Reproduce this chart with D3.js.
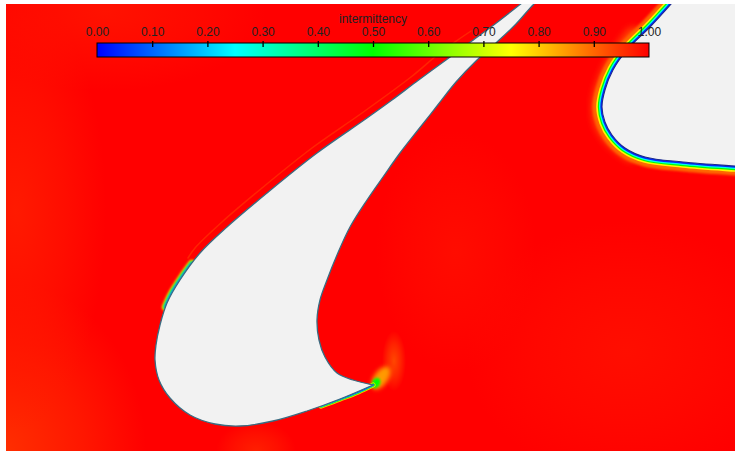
<!DOCTYPE html>
<html>
<head>
<meta charset="utf-8">
<script src="https://cdn.jsdelivr.net/npm/d3@7"></script>
<style>
  html, body { margin: 0; padding: 0; background: #fff; }
  svg { display: block; }
</style>
</head>
<body>
<svg id="chart" width="735" height="452"></svg>
<script>
// Intermittency field around two turbine blade sections (coordinates in mm)

// colour legend
const legendTitle = "intermittency";
const tickValues = [0.0, 0.1, 0.2, 0.3, 0.4, 0.5, 0.6, 0.7, 0.8, 0.9, 1.0];
const colorStops = [0.0, 0.25, 0.5, 0.75, 1.0];
const colorRange = ["#0000ff", "#00ffff", "#00ff00", "#ffff00", "#ff0000"];

// blade A: trailing edge -> pressure side -> leading edge -> suction side -> trailing edge
const bladeA = [
  [36.7, 6.6], [33.4, 5.2], [30.1, 4.0], [26.7, 3.0], [23.4, 2.5], [20.9, 2.7],
  [18.4, 3.6], [16.4, 5.3], [15.3, 7.1], [14.9, 9.1], [15.0, 10.6], [15.4, 12.6],
  [16.1, 14.8], [17.4, 17.1], [19.4, 19.8], [22.1, 22.4], [26.1, 25.8], [31.1, 29.8],
  [36.1, 33.3], [38.6, 35.1], [41.0, 36.9], [44.0, 39.1], [46.3, 40.8], [48.9, 42.7],
  [51.6, 44.8], [53.0, 45.9], [54.3, 45.9], [52.9, 44.8], [51.0, 42.7], [49.0, 40.8],
  [47.1, 39.1], [45.0, 36.9], [43.1, 34.5], [41.2, 32.1], [39.4, 29.8], [37.7, 27.4],
  [36.1, 25.1], [34.4, 22.4], [33.1, 19.6], [32.1, 17.1], [31.4, 15.1], [31.1, 13.1],
  [31.3, 11.1], [31.9, 9.4], [33.1, 7.8], [34.7, 7.1], [36.7, 6.6]
];

// blade B (next passage): wall contour, then the point that closes it beyond the domain
const bladeB = [
  [67.6, 45.9], [66.6, 44.8], [64.4, 42.4], [62.1, 40.1], [60.7, 38.1], [59.9, 36.1],
  [59.6, 34.4], [59.9, 32.9], [60.6, 31.6], [61.9, 30.3], [63.9, 29.4], [67.7, 28.9],
  [72.9, 28.5], [74.4, 28.4]
];
const bladeBClosure = [[74.4, 45.9]];

// near-wall intermittency levels (outermost first)
const wallLevelsB = [0.9, 0.76, 0.5, 0.27, 0.04];
const wallLevelsA = [0.78, 0.5, 0.25, 0.06];

// local transitional patches on blade A
const patchLeadingEdge = [[18.6, 18.7], [17.6, 17.3], [16.6, 15.7], [16.0, 14.4]];
const patchPressureSide = [[31.5, 4.5], [33.4, 5.2], [35.2, 5.9], [36.7, 6.6]];
const bladeBNoseZone = [[62.8, 41.3], [60.7, 38.1], [59.7, 35.2], [59.8, 33.0], [60.8, 31.4], [62.5, 30.0]];

// weak shear layer ahead of blade A suction surface
const shearLayer = [
  [18.2, 19.3], [18.9, 20.3], [21.6, 22.9], [25.6, 26.3], [30.6, 30.3], [35.6, 33.8],
  [40.5, 37.4], [43.5, 39.9], [46.5, 42.0]
];

// trailing-edge wake spot: centre, semi-axes (mm), tilt (deg), level
const wakeSpots = [
  { cx: 37.5, cy: 7.3, rx: 0.7, ry: 1.3, tilt: 35, value: 0.85 },
  { cx: 37.0, cy: 6.8, rx: 0.4, ry: 0.55, tilt: 30, value: 0.5 }
];

// free-stream level variations
const freeStream = [
  { cx: 0.0, cy: 0.0, rx: 14, ry: 17, value: 0.955 },
  { cx: 1.0, cy: 24.0, rx: 9, ry: 22, value: 0.975 },
  { cx: 10.0, cy: 44.0, rx: 16, ry: 8, value: 0.982 },
  { cx: 62.0, cy: 10.0, rx: 16, ry: 13, value: 0.986 },
  { cx: 45.0, cy: 20.0, rx: 8, ry: 12, value: 0.988 },
  { cx: 38.8, cy: 9.0, rx: 1.2, ry: 3.0, value: 0.93 },
  { cx: 25.0, cy: 0.0, rx: 4, ry: 3, value: 0.97 }
];

// ---------------------------------------------------------------
const svg = d3.select("#chart");

const x = d3.scaleLinear().domain([0, 72.9]).range([6, 735]);
const y = d3.scaleLinear().domain([0, 44.7]).range([451, 4]);
const color = d3.scaleLinear().domain(colorStops).range(colorRange)
  .interpolate(d3.interpolateRgb).clamp(true);

const defs = svg.append("defs");
defs.append("clipPath").attr("id", "plot-clip")
  .append("rect").attr("x", x(0)).attr("y", y(44.7))
  .attr("width", x(72.9) - x(0)).attr("height", y(0) - y(44.7));

function blurFilter(id, sd) {
  defs.append("filter").attr("id", id)
    .attr("x", "-50%").attr("y", "-50%").attr("width", "200%").attr("height", "200%")
    .append("feGaussianBlur").attr("stdDeviation", sd);
}
blurFilter("b05", 0.5);
blurFilter("b08", 0.8);
blurFilter("b12", 1.2);
blurFilter("b2", 2);
blurFilter("b3", 3);

const smooth = d3.line().x(d => x(d[0])).y(d => y(d[1]))
  .curve(d3.curveCatmullRom.alpha(0.5));

const pathA = smooth(bladeA) + "Z";
const pathB = smooth(bladeB) + bladeBClosure.map(p => `L${x(p[0])},${y(p[1])}`).join("") + "Z";

const plot = svg.append("g").attr("clip-path", "url(#plot-clip)");

// free stream
plot.append("rect")
  .attr("x", x(0)).attr("y", y(44.7))
  .attr("width", x(72.9) - x(0)).attr("height", y(0) - y(44.7))
  .attr("fill", color(1));

freeStream.forEach((d, i) => {
  const g = defs.append("radialGradient").attr("id", `fs${i}`);
  g.append("stop").attr("offset", "0%").attr("stop-color", color(d.value)).attr("stop-opacity", 1);
  g.append("stop").attr("offset", "55%").attr("stop-color", color(d.value)).attr("stop-opacity", 0.5);
  g.append("stop").attr("offset", "100%").attr("stop-color", color(d.value)).attr("stop-opacity", 0);
});
plot.append("g").selectAll("ellipse").data(freeStream).join("ellipse")
  .attr("cx", d => x(d.cx)).attr("cy", d => y(d.cy))
  .attr("rx", d => x(d.rx) - x(0)).attr("ry", d => y(0) - y(d.ry))
  .attr("fill", (d, i) => `url(#fs${i})`);

// shear layer streak
plot.append("path")
  .attr("d", smooth(shearLayer))
  .attr("fill", "none")
  .attr("stroke", color(0.9))
  .attr("stroke-opacity", 0.35)
  .attr("stroke-width", 1.5)
  .attr("stroke-linecap", "round")
  .attr("filter", "url(#b05)");

// blade B near-wall layers
plot.append("path")
  .attr("d", smooth(bladeBNoseZone))
  .attr("fill", "none")
  .attr("stroke", color(0.9))
  .attr("stroke-width", 22)
  .attr("stroke-linecap", "round")
  .attr("stroke-opacity", 0.6)
  .attr("filter", "url(#b3)");

const bandWidthB = [9.5, 5.8, 4.2, 3.0, 1.7];
plot.append("g").selectAll("path").data(wallLevelsB).join("path")
  .attr("d", pathB)
  .attr("fill", "none")
  .attr("stroke", d => color(d))
  .attr("stroke-width", (d, i) => bandWidthB[i] * 2)
  .attr("stroke-linejoin", "round")
  .attr("filter", (d, i) => i === 0 ? "url(#b12)" : "url(#b05)");

plot.append("path")
  .attr("d", pathB)
  .attr("fill", "#f2f2f2")
  .attr("stroke", "#1c2a8c")
  .attr("stroke-width", 1.1);

// blade A transitional patches
plot.append("g").selectAll("ellipse").data(wakeSpots).join("ellipse")
  .attr("cx", d => x(d.cx)).attr("cy", d => y(d.cy))
  .attr("rx", d => x(d.rx) - x(0)).attr("ry", d => y(0) - y(d.ry))
  .attr("transform", d => `rotate(${d.tilt},${x(d.cx)},${y(d.cy)})`)
  .attr("fill", d => color(d.value))
  .attr("filter", (d, i) => i === 0 ? "url(#b2)" : "url(#b08)");

const patchWidthLE = [4, 2.8, 1.9, 1.2];
plot.append("g").selectAll("path").data(wallLevelsA).join("path")
  .attr("d", smooth(patchLeadingEdge))
  .attr("fill", "none")
  .attr("stroke", d => color(d))
  .attr("stroke-width", (d, i) => patchWidthLE[i] * 2)
  .attr("stroke-linecap", "round")
  .attr("filter", "url(#b08)");

const patchWidthPS = [2.6, 1.8, 1.2, 0.8];
plot.append("g").selectAll("path").data(wallLevelsA).join("path")
  .attr("d", smooth(patchPressureSide))
  .attr("fill", "none")
  .attr("stroke", d => color(d))
  .attr("stroke-width", (d, i) => patchWidthPS[i] * 2)
  .attr("stroke-linecap", "round")
  .attr("stroke-opacity", 0.85)
  .attr("filter", "url(#b05)");

plot.append("path")
  .attr("d", pathA)
  .attr("fill", "#f2f2f2")
  .attr("stroke", "#3a6c82")
  .attr("stroke-width", 1.3)
  .attr("stroke-linejoin", "miter");

// ---------------------------------------------------------------
// colour bar
const bar = svg.append("g");
const barX = d3.scaleLinear().domain([0, 1]).range([97, 649]);
const barTop = 43, barH = 14;

const grad = defs.append("linearGradient").attr("id", "bar-grad")
  .attr("x1", "0%").attr("x2", "100%").attr("y1", "0%").attr("y2", "0%");
grad.selectAll("stop").data(d3.range(0, 1.0001, 0.05)).join("stop")
  .attr("offset", d => `${d * 100}%`)
  .attr("stop-color", d => color(d));

bar.append("rect")
  .attr("x", barX(0)).attr("y", barTop)
  .attr("width", barX(1) - barX(0)).attr("height", barH)
  .attr("fill", "url(#bar-grad)")
  .attr("stroke", "#000").attr("stroke-width", 1);

const axis = d3.axisTop(barX)
  .tickValues(tickValues)
  .tickFormat(d3.format(".2f"))
  .tickSize(6).tickPadding(5);

const axisG = bar.append("g").attr("transform", `translate(0,${barTop + 4})`).call(axis);
axisG.select(".domain").remove();
axisG.selectAll(".tick line")
  .attr("stroke", "#000").attr("stroke-width", 1.3)
  .attr("display", d => (d === 0 || d === 1) ? "none" : null);
axisG.selectAll(".tick text")
  .attr("fill", "#222")
  .style("font-family", "'Liberation Sans', Arial, sans-serif")
  .style("font-size", "12px");

bar.append("text")
  .attr("x", barX(0.5)).attr("y", 23)
  .attr("text-anchor", "middle")
  .attr("fill", "#222")
  .style("font-family", "'Liberation Sans', Arial, sans-serif")
  .style("font-size", "12px")
  .text(legendTitle);
</script>
</body>
</html>
